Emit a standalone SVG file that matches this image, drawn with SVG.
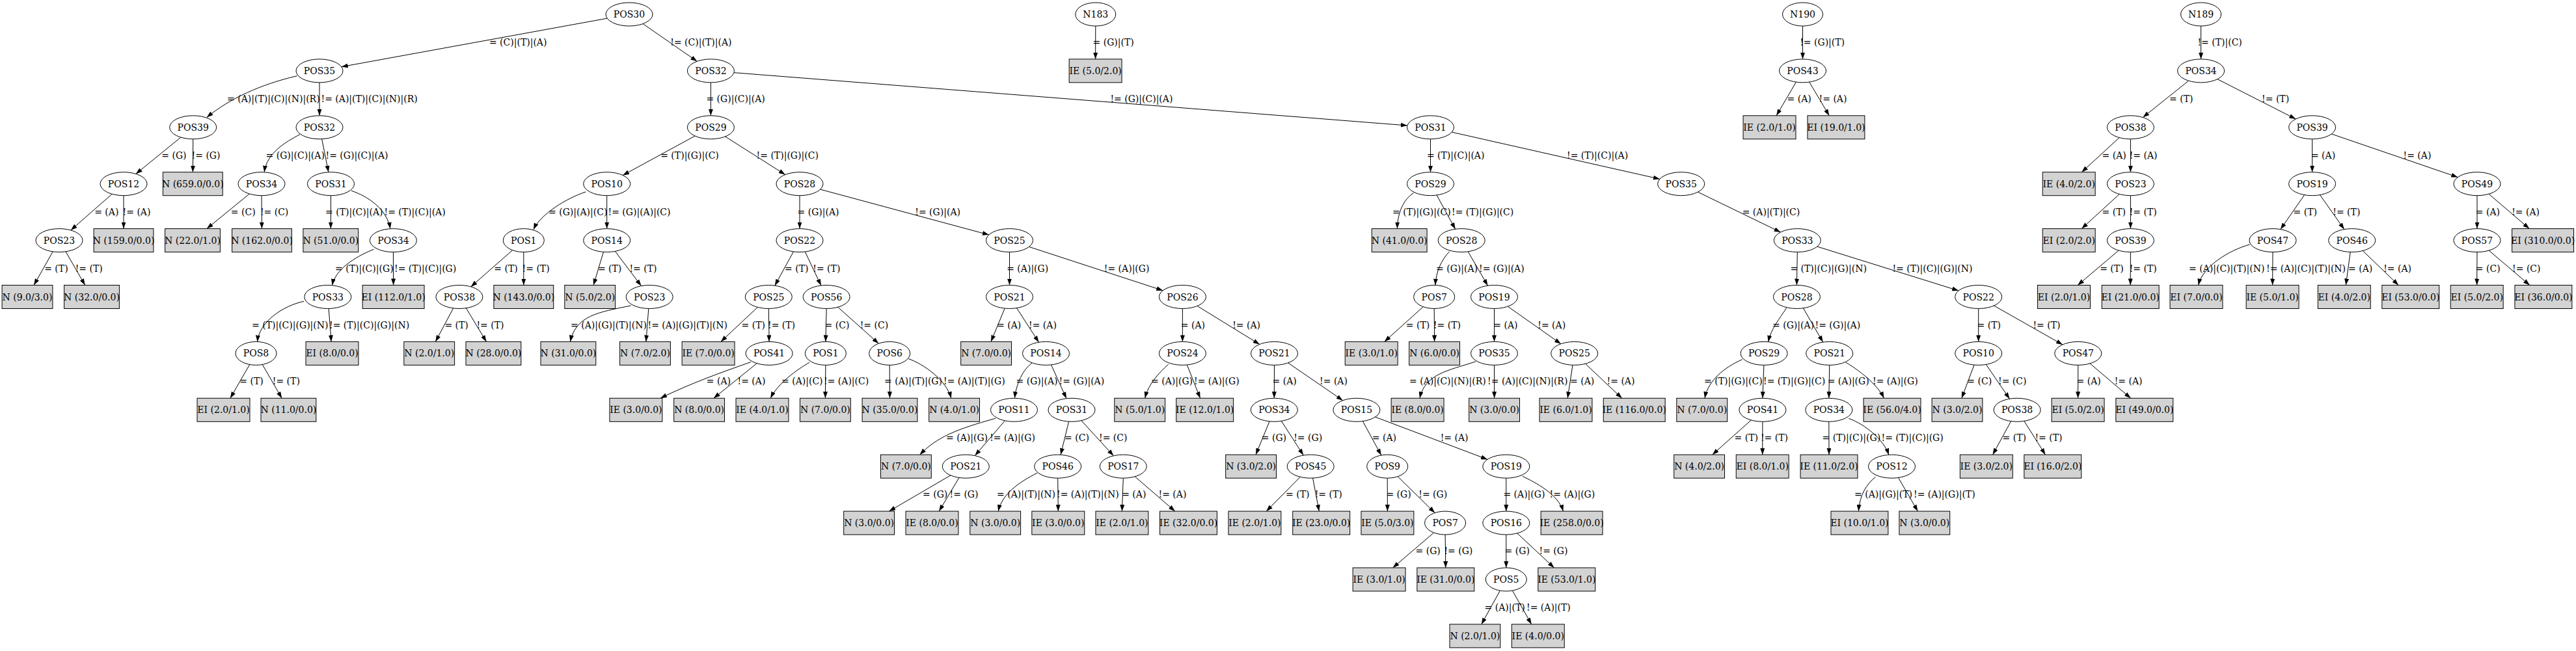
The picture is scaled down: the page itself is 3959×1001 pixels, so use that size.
<svg xmlns="http://www.w3.org/2000/svg" width="3959" height="1001" viewBox="0 0 3959 1001">
<defs>
<marker id="ah" markerWidth="10" markerHeight="7" refX="10" refY="3.5" orient="auto" markerUnits="userSpaceOnUse"><path d="M0,0 L10,3.5 L0,7 z" fill="#000"/></marker>
</defs>
<style>
.nd ellipse{fill:#fff;stroke:#000;stroke-width:1}
.lf rect{fill:#d3d3d3;stroke:#000;stroke-width:1}
text{font-family:"DejaVu Serif","Liberation Serif",serif;font-size:14px;fill:#000}
.nd text,.lf text{text-anchor:middle}
#edges path{fill:none;stroke:#000;stroke-width:1;marker-end:url(#ah)}
</style>
<rect x="0" y="0" width="3959" height="1001" fill="#fff"/>
<g id="edges">
<g id="e1"><path d="M933.2,28.2 L524.8,102.7"/><text x="751.9" y="69.9">= (C)|(T)|(A)</text></g>
<g id="e2"><path d="M988.1,36.6 L1071.3,94.3"/><text x="1030.3" y="69.9">!= (C)|(T)|(A)</text></g>
<g id="e3"><path d="M456.6,116.7 C401.1,129.5 352.5,151.8 317.8,180.5"/><text x="349" y="156.9">= (A)|(T)|(C)|(N)|(R)</text></g>
<g id="e4"><path d="M491,126.9 L491,177.8"/><text x="493.5" y="156.9">!= (A)|(T)|(C)|(N)|(R)</text></g>
<g id="e5"><path d="M277.9,211.1 L208.8,267.4"/><text x="248.3" y="243.8">= (G)</text></g>
<g id="e6"><path d="M296.7,213.8 L296.4,264.7"/><text x="294.6" y="243.8">!= (G)</text></g>
<g id="e7"><path d="M172.2,298.3 L108.8,354"/><text x="145.2" y="330.7">= (A)</text></g>
<g id="e8"><path d="M190,300.7 L190,351.6"/><text x="188.6" y="330.7">!= (A)</text></g>
<g id="e9"><path d="M81.2,386.9 L52.1,438.5"/><text x="68.2" y="417.6">= (T)</text></g>
<g id="e10"><path d="M101,386.9 L130.7,438.5"/><text x="115.7" y="417.6">!= (T)</text></g>
<g id="e11"><path d="M460.9,206.7 C439,218.3 410,235 406.2,264.7"/><text x="408.5" y="243.8">= (G)|(C)|(A)</text></g>
<g id="e12"><path d="M494.6,213.7 L504.9,264.8"/><text x="500.5" y="243.8">!= (G)|(C)|(A)</text></g>
<g id="e13"><path d="M383.3,298.1 L317.9,351.6"/><text x="354.8" y="330.7">= (C)</text></g>
<g id="e14"><path d="M402,300.7 L402.4,351.6"/><text x="399.9" y="330.7">!= (C)</text></g>
<g id="e15"><path d="M508.5,300.7 L508.3,351.6"/><text x="500" y="330.7">= (T)|(C)|(A)</text></g>
<g id="e16"><path d="M540,293.3 C566,302 595,322 599.8,351.8"/><text x="590.5" y="330.7">!= (T)|(C)|(A)</text></g>
<g id="e17"><path d="M574.5,383.3 C545,395 515,415 510.6,438.8"/><text x="515" y="417.6">= (T)|(C)|(G)</text></g>
<g id="e18"><path d="M604.4,387.6 L604.6,438.5"/><text x="606" y="417.6">!= (T)|(C)|(G)</text></g>
<g id="e19"><path d="M467.2,463.3 C435,470 398,495 395.6,525.6"/><text x="387" y="504.5">= (T)|(C)|(G)|(N)</text></g>
<g id="e20"><path d="M505.2,474.5 L509.1,525.4"/><text x="506" y="504.5">!= (T)|(C)|(G)|(N)</text></g>
<g id="e21"><path d="M383.7,560.5 L353.9,612.3"/><text x="368.3" y="591.4">= (T)</text></g>
<g id="e22"><path d="M403.3,560.5 L433.1,612.3"/><text x="418.8" y="591.4">!= (T)</text></g>
<g id="e23"><path d="M1092.4,126.9 L1092.4,177.8"/><text x="1085.4" y="156.9">= (G)|(C)|(A)</text></g>
<g id="e24"><path d="M1128,111.7 L2162.9,193"/><text x="1706.4" y="156.9">!= (G)|(C)|(A)</text></g>
<g id="e25"><path d="M1068,209.1 L957.1,269.5"/><text x="1015.2" y="243.8">= (T)|(G)|(C)</text></g>
<g id="e26"><path d="M1114.6,210 L1206.8,268.5"/><text x="1162.6" y="243.8">!= (T)|(G)|(C)</text></g>
<g id="e27"><path d="M900.2,295 C870,305 830,330 820,353"/><text x="843" y="330.7">= (G)|(A)|(C)</text></g>
<g id="e28"><path d="M932.7,300.7 L932.7,351.6"/><text x="934.5" y="330.7">!= (G)|(A)|(C)</text></g>
<g id="e29"><path d="M1229,300.7 L1229,351.6"/><text x="1225.5" y="330.7">= (G)|(A)</text></g>
<g id="e30"><path d="M1260.7,291.2 L1519.8,361.1"/><text x="1406.3" y="330.7">!= (G)|(A)</text></g>
<g id="e31"><path d="M787.6,384.7 L723.7,440.9"/><text x="759.3" y="417.6">= (T)</text></g>
<g id="e32"><path d="M804.8,387.6 L804.8,438.5"/><text x="802.6" y="417.6">!= (T)</text></g>
<g id="e33"><path d="M927.4,387.5 L912.1,438.5"/><text x="918.9" y="417.6">= (T)</text></g>
<g id="e34"><path d="M945.4,386.5 L985.5,439.6"/><text x="967.4" y="417.6">!= (T)</text></g>
<g id="e35"><path d="M1219.5,386.9 L1190.8,439.2"/><text x="1206" y="417.6">= (T)</text></g>
<g id="e36"><path d="M1237.3,387.1 L1261.9,439"/><text x="1249.3" y="417.6">!= (T)</text></g>
<g id="e37"><path d="M696.7,473.9 L669.3,525.4"/><text x="683.4" y="504.5">= (T)</text></g>
<g id="e38"><path d="M716.3,473.7 L747.5,525.4"/><text x="732.4" y="504.5">!= (T)</text></g>
<g id="e39"><path d="M969.6,470 C920,480 885,485 876.4,525.4"/><text x="877" y="504.5">= (A)|(G)|(T)|(N)</text></g>
<g id="e40"><path d="M996.8,474.5 L992.9,525.4"/><text x="995.5" y="504.5">!= (A)|(G)|(T)|(N)</text></g>
<g id="e41"><path d="M1164.4,472.4 L1107.8,525.4"/><text x="1139.6" y="504.5">= (T)</text></g>
<g id="e42"><path d="M1181.3,474.5 L1182.1,525.4"/><text x="1180" y="504.5">!= (T)</text></g>
<g id="e43"><path d="M1270.2,474.5 L1268.9,525.4"/><text x="1267.6" y="504.5">= (C)</text></g>
<g id="e44"><path d="M1287.7,472.2 L1350.3,528.2"/><text x="1321.7" y="504.5">!= (C)</text></g>
<g id="e45"><path d="M1153.9,556.7 C1110,572 1060,590 1015,612.3"/><text x="1085.8" y="591.4">= (A)</text></g>
<g id="e46"><path d="M1163.2,558.7 L1096.9,612.3"/><text x="1133.5" y="591.4">!= (A)</text></g>
<g id="e47"><path d="M1244.1,557.3 C1225,568 1195,590 1184.3,612.3"/><text x="1201" y="591.4">= (A)|(C)</text></g>
<g id="e48"><path d="M1268.9,561.4 L1268.4,612.3"/><text x="1266" y="591.4">!= (A)|(C)</text></g>
<g id="e49"><path d="M1367.2,561.4 L1367.5,612.3"/><text x="1359" y="591.4">= (A)|(T)|(G)</text></g>
<g id="e50"><path d="M1396.3,551.7 C1420,560 1455,585 1461.8,612.3"/><text x="1450" y="591.4">!= (A)|(T)|(G)</text></g>
<g id="e51"><path d="M1551.5,387.6 L1551.5,438.5"/><text x="1547.2" y="417.6">= (A)|(G)</text></g>
<g id="e52"><path d="M1581.6,379.5 L1787.3,446.7"/><text x="1696.8" y="417.6">!= (A)|(G)</text></g>
<g id="e53"><path d="M1544.2,474.1 L1523,525.4"/><text x="1532" y="504.5">= (A)</text></g>
<g id="e54"><path d="M1562.5,473.6 L1596.5,526.3"/><text x="1581" y="504.5">!= (A)</text></g>
<g id="e55"><path d="M1586.2,558.3 C1572,568 1562,590 1559.4,612.3"/><text x="1561.5" y="591.4">= (G)|(A)</text></g>
<g id="e56"><path d="M1615.5,560.9 L1639,612.8"/><text x="1627.5" y="591.4">!= (G)|(A)</text></g>
<g id="e57"><path d="M1817.4,474.5 L1817.4,525.4"/><text x="1814.8" y="504.5">= (A)</text></g>
<g id="e58"><path d="M1840.1,470.5 L1935.8,529.4"/><text x="1894.2" y="504.5">!= (A)</text></g>
<g id="e59"><path d="M1529.9,643.3 C1470,660 1440,672 1413.6,699.2"/><text x="1454" y="678.3">= (A)|(G)</text></g>
<g id="e60"><path d="M1544.4,646.9 L1498.4,700.6"/><text x="1521.2" y="678.3">!= (A)|(G)</text></g>
<g id="e61"><path d="M1642.6,648.2 L1630.1,699.3"/><text x="1636.1" y="678.3">= (C)</text></g>
<g id="e62"><path d="M1661.9,646.7 L1711.4,700.8"/><text x="1689" y="678.3">!= (C)</text></g>
<g id="e63"><path d="M1460.9,730.9 L1366.4,786.1"/><text x="1418" y="765.2">= (G)</text></g>
<g id="e64"><path d="M1474,734.5 L1443.2,786.1"/><text x="1459.6" y="765.2">!= (G)</text></g>
<g id="e65"><path d="M1594,727.3 C1565,742 1540,760 1534.2,786.1"/><text x="1532" y="765.2">= (A)|(T)|(N)</text></g>
<g id="e66"><path d="M1625.7,735.2 L1626.3,786.1"/><text x="1624" y="765.2">!= (A)|(T)|(N)</text></g>
<g id="e67"><path d="M1726.3,735.2 L1724.4,786.1"/><text x="1724.2" y="765.2">= (A)</text></g>
<g id="e68"><path d="M1744.3,732.8 L1805.8,786.1"/><text x="1780.5" y="765.2">!= (A)</text></g>
<g id="e69"><path d="M1795.7,560 C1780,575 1765,590 1759.7,612.3"/><text x="1769" y="591.4">= (A)|(G)</text></g>
<g id="e70"><path d="M1824.4,561.2 L1844.6,612.3"/><text x="1835" y="591.4">!= (A)|(G)</text></g>
<g id="e71"><path d="M1958.5,561.4 L1958.3,612.3"/><text x="1955.5" y="591.4">= (A)</text></g>
<g id="e72"><path d="M1979.7,558 L2063.7,615.7"/><text x="2028.1" y="591.4">!= (A)</text></g>
<g id="e73"><path d="M1951,648 L1930,699.2"/><text x="1938.8" y="678.3">= (G)</text></g>
<g id="e74"><path d="M1969.3,647.4 L2003.2,700"/><text x="1988.2" y="678.3">!= (G)</text></g>
<g id="e75"><path d="M1998.3,733.3 L1946.2,786.1"/><text x="1976" y="765.2">= (T)</text></g>
<g id="e76"><path d="M2017.6,735.1 L2027.3,786.1"/><text x="2020.7" y="765.2">!= (T)</text></g>
<g id="e77"><path d="M2094.3,647.6 L2122.8,700"/><text x="2108.8" y="678.3">= (A)</text></g>
<g id="e78"><path d="M2113.6,641.2 L2286.1,706.4"/><text x="2213.7" y="678.3">!= (A)</text></g>
<g id="e79"><path d="M2132.2,735.2 L2132.4,786.1"/><text x="2130.4" y="765.2">= (G)</text></g>
<g id="e80"><path d="M2148.1,732.7 L2205.2,788.6"/><text x="2180.3" y="765.2">!= (G)</text></g>
<g id="e81"><path d="M2203.6,819.1 L2140.6,873"/><text x="2175.5" y="852.1">= (G)</text></g>
<g id="e82"><path d="M2221.1,822.1 L2221.8,873"/><text x="2219.4" y="852.1">!= (G)</text></g>
<g id="e83"><path d="M2314.8,735.2 L2314.8,786.1"/><text x="2310.4" y="765.2">= (A)|(G)</text></g>
<g id="e84"><path d="M2339.9,732.3 C2360,742 2395,760 2402.4,786.1"/><text x="2381.6" y="765.2">!= (A)|(G)</text></g>
<g id="e85"><path d="M2314.8,822.1 L2314.8,873"/><text x="2312.6" y="852.1">= (G)</text></g>
<g id="e86"><path d="M2331.7,819.9 L2388.5,873"/><text x="2365.5" y="852.1">!= (G)</text></g>
<g id="e87"><path d="M2305.3,908.3 L2276.8,959.9"/><text x="2281.5" y="939">= (A)|(T)</text></g>
<g id="e88"><path d="M2324.5,908.3 L2353.7,959.9"/><text x="2346" y="939">!= (A)|(T)</text></g>
<g id="e89"><path d="M2198.5,213.8 L2198.5,264.7"/><text x="2192.9" y="243.8">= (T)|(C)|(A)</text></g>
<g id="e90"><path d="M2231.3,203.2 L2550.9,275.3"/><text x="2408" y="243.8">!= (T)|(C)|(A)</text></g>
<g id="e91"><path d="M2172.5,296.7 C2158,306 2148,325 2147.4,351.6"/><text x="2140" y="330.7">= (T)|(G)|(C)</text></g>
<g id="e92"><path d="M2208,300 L2236.7,352.3"/><text x="2231" y="330.7">!= (T)|(G)|(C)</text></g>
<g id="e93"><path d="M2227.6,386.7 C2215,400 2207,418 2205.9,438.6"/><text x="2207" y="417.6">= (G)|(A)</text></g>
<g id="e94"><path d="M2256.2,386.9 L2286.5,439.2"/><text x="2273" y="417.6">!= (G)|(A)</text></g>
<g id="e95"><path d="M2187.3,471.7 L2127.7,525.4"/><text x="2160.8" y="504.5">= (T)</text></g>
<g id="e96"><path d="M2204.2,474.5 L2204.6,525.4"/><text x="2202.9" y="504.5">!= (T)</text></g>
<g id="e97"><path d="M2296.5,474.5 L2296.5,525.4"/><text x="2295.3" y="504.5">= (A)</text></g>
<g id="e98"><path d="M2317.3,471.2 L2398.9,528.7"/><text x="2363.3" y="504.5">!= (A)</text></g>
<g id="e99"><path d="M2267.9,556 C2225,570 2190,575 2182,612.3"/><text x="2166" y="591.4">= (A)|(C)|(N)|(R)</text></g>
<g id="e100"><path d="M2296.5,561.4 L2296.6,612.3"/><text x="2286.1" y="591.4">!= (A)|(C)|(N)|(R)</text></g>
<g id="e101"><path d="M2417,561.4 L2409.2,612.3"/><text x="2413" y="591.4">= (A)</text></g>
<g id="e102"><path d="M2436.5,559.3 L2492.7,612.3"/><text x="2469.6" y="591.4">!= (A)</text></g>
<g id="e103"><path d="M2609.5,295.3 L2736.5,357"/><text x="2677.7" y="330.7">= (A)|(T)|(C)</text></g>
<g id="e104"><path d="M2762.3,387.6 L2761.4,438.5"/><text x="2751.4" y="417.6">= (T)|(C)|(G)|(N)</text></g>
<g id="e105"><path d="M2792.8,379.1 L3010.2,447"/><text x="2908.4" y="417.6">!= (T)|(C)|(G)|(N)</text></g>
<g id="e106"><path d="M2745.8,473.3 C2735,490 2722,505 2717.6,525.8"/><text x="2724" y="504.5">= (G)|(A)</text></g>
<g id="e107"><path d="M2771.4,473.8 L2801.7,526.1"/><text x="2789.5" y="504.5">!= (G)|(A)</text></g>
<g id="e108"><path d="M2677.7,552.7 C2650,565 2625,585 2620,612.3"/><text x="2619" y="591.4">= (T)|(G)|(C)</text></g>
<g id="e109"><path d="M2710.9,561.4 L2708.9,612.3"/><text x="2710" y="591.4">!= (T)|(G)|(C)</text></g>
<g id="e110"><path d="M2811.7,561.4 L2810.8,612.3"/><text x="2808.7" y="591.4">= (A)|(G)</text></g>
<g id="e111"><path d="M2836.9,557.3 C2855,568 2885,590 2895.4,612.3"/><text x="2878" y="591.4">!= (A)|(G)</text></g>
<g id="e112"><path d="M2691.3,646 L2631.7,699.2"/><text x="2665.5" y="678.3">= (T)</text></g>
<g id="e113"><path d="M2708.9,648.3 L2708.7,699.2"/><text x="2705.9" y="678.3">!= (T)</text></g>
<g id="e114"><path d="M2810.8,648.3 L2811,699.2"/><text x="2800.5" y="678.3">= (T)|(C)|(G)</text></g>
<g id="e115"><path d="M2841.2,643.3 C2865,652 2895,675 2902.8,699.4"/><text x="2891.5" y="678.3">!= (T)|(C)|(G)</text></g>
<g id="e116"><path d="M2882.4,733.3 C2868,745 2858,762 2856.4,786.1"/><text x="2850" y="765.2">= (A)|(G)|(T)</text></g>
<g id="e117"><path d="M2917.5,734.5 L2947.4,786.1"/><text x="2941" y="765.2">!= (A)|(G)|(T)</text></g>
<g id="e118"><path d="M3040.7,474.5 L3040.7,525.4"/><text x="3038.5" y="504.5">= (T)</text></g>
<g id="e119"><path d="M3064.5,470 L3170,529.9"/><text x="3124.4" y="504.5">!= (T)</text></g>
<g id="e120"><path d="M3034,561.2 L3014.8,612.3"/><text x="3023.3" y="591.4">= (C)</text></g>
<g id="e121"><path d="M3052.3,560.4 L3088.5,613.3"/><text x="3071" y="591.4">!= (C)</text></g>
<g id="e122"><path d="M3090.7,647.6 L3062.6,699.2"/><text x="3077.6" y="678.3">= (T)</text></g>
<g id="e123"><path d="M3110.9,647.5 L3143.5,699.2"/><text x="3127.4" y="678.3">!= (T)</text></g>
<g id="e124"><path d="M3193.8,561.4 L3193.6,612.3"/><text x="3191.6" y="591.4">= (A)</text></g>
<g id="e125"><path d="M3212,558.9 L3274.7,612.3"/><text x="3249.7" y="591.4">!= (A)</text></g>
<g id="e126"><path d="M1683.8,40 L1683.6,90.9"/><text x="1679.5" y="69.9">= (G)|(T)</text></g>
<g id="e127"><path d="M2770.5,40 L2770.5,90.9"/><text x="2766.2" y="69.9">!= (G)|(T)</text></g>
<g id="e128"><path d="M2760.4,126.2 L2730.1,177.8"/><text x="2746.6" y="156.9">= (A)</text></g>
<g id="e129"><path d="M2780.7,126.2 L2811.3,177.8"/><text x="2795.6" y="156.9">!= (A)</text></g>
<g id="e130"><path d="M3382.6,40 L3382.6,90.9"/><text x="3377.4" y="69.9">!= (T)|(C)</text></g>
<g id="e131"><path d="M3363.6,124.2 L3293.4,180.5"/><text x="3334.1" y="156.9">= (T)</text></g>
<g id="e132"><path d="M3407.9,121.7 L3528.3,183"/><text x="3476.1" y="156.9">!= (T)</text></g>
<g id="e133"><path d="M3257.2,211.6 L3199.3,264.7"/><text x="3230.6" y="243.8">= (A)</text></g>
<g id="e134"><path d="M3274.4,213.8 L3274.4,264.7"/><text x="3272.7" y="243.8">!= (A)</text></g>
<g id="e135"><path d="M3257.2,298.5 L3199.3,351.6"/><text x="3230.6" y="330.7">= (T)</text></g>
<g id="e136"><path d="M3274.4,300.7 L3274.4,351.6"/><text x="3272.7" y="330.7">!= (T)</text></g>
<g id="e137"><path d="M3256.1,385.1 L3193.2,438.5"/><text x="3227.2" y="417.6">= (T)</text></g>
<g id="e138"><path d="M3274.4,387.6 L3274.2,438.5"/><text x="3272.7" y="417.6">!= (T)</text></g>
<g id="e139"><path d="M3553.6,213.8 L3553.6,264.7"/><text x="3551.9" y="243.8">= (A)</text></g>
<g id="e140"><path d="M3583.3,206 L3777.3,272.5"/><text x="3693.5" y="243.8">!= (A)</text></g>
<g id="e141"><path d="M3541.7,299.7 L3504.9,352.6"/><text x="3524.6" y="330.7">= (T)</text></g>
<g id="e142"><path d="M3565.5,299.7 L3602.8,352.6"/><text x="3585.3" y="330.7">!= (T)</text></g>
<g id="e143"><path d="M3457.5,376 C3425,385 3385,410 3378.7,438.5"/><text x="3364" y="417.6">= (A)|(C)|(T)|(N)</text></g>
<g id="e144"><path d="M3493,387.6 L3492.6,438.5"/><text x="3483" y="417.6">!= (A)|(C)|(T)|(N)</text></g>
<g id="e145"><path d="M3612.2,387.5 L3605.3,438.5"/><text x="3609" y="417.6">= (A)</text></g>
<g id="e146"><path d="M3631.3,385.6 L3686.2,438.5"/><text x="3663.2" y="417.6">!= (A)</text></g>
<g id="e147"><path d="M3807,300.7 L3807,351.6"/><text x="3804.8" y="330.7">= (A)</text></g>
<g id="e148"><path d="M3825.1,298.3 L3887.2,351.6"/><text x="3860.2" y="330.7">!= (A)</text></g>
<g id="e149"><path d="M3807,387.6 L3806.7,438.5"/><text x="3804.8" y="417.6">= (C)</text></g>
<g id="e150"><path d="M3825.2,385.2 L3887.8,438.5"/><text x="3861.1" y="417.6">!= (C)</text></g>
</g>
<g id="nodes">
<g id="a0" class="nd"><ellipse cx="967" cy="22" rx="36" ry="18"/><text x="967" y="27">POS30</text></g>
<g id="a1" class="nd"><ellipse cx="491" cy="108.9" rx="36" ry="18"/><text x="491" y="113.9">POS35</text></g>
<g id="a2" class="nd"><ellipse cx="1092.4" cy="108.9" rx="36" ry="18"/><text x="1092.4" y="113.9">POS32</text></g>
<g id="a1a" class="nd"><ellipse cx="296.7" cy="195.8" rx="36" ry="18"/><text x="296.7" y="200.8">POS39</text></g>
<g id="a1b" class="nd"><ellipse cx="491" cy="195.8" rx="36" ry="18"/><text x="491" y="200.8">POS32</text></g>
<g id="a1a1" class="nd"><ellipse cx="190" cy="282.7" rx="36" ry="18"/><text x="190" y="287.7">POS12</text></g>
<g id="a1a2" class="lf"><rect x="250.4" y="264.7" width="91.8" height="36"/><text x="296.3" y="287.7">N (659.0/0.0)</text></g>
<g id="a1a1a" class="nd"><ellipse cx="91" cy="369.6" rx="36" ry="18"/><text x="91" y="374.6">POS23</text></g>
<g id="a1a1b" class="lf"><rect x="144.1" y="351.6" width="91.8" height="36"/><text x="190" y="374.6">N (159.0/0.0)</text></g>
<g id="a1a1a1" class="lf"><rect x="3.1" y="438.5" width="77.8" height="36"/><text x="42" y="461.5">N (9.0/3.0)</text></g>
<g id="a1a1a2" class="lf"><rect x="98.6" y="438.5" width="84.8" height="36"/><text x="141" y="461.5">N (32.0/0.0)</text></g>
<g id="a1b1" class="nd"><ellipse cx="402" cy="282.7" rx="36" ry="18"/><text x="402" y="287.7">POS34</text></g>
<g id="a1b2" class="nd"><ellipse cx="508.5" cy="282.7" rx="36" ry="18"/><text x="508.5" y="287.7">POS31</text></g>
<g id="a1b1a" class="lf"><rect x="253.6" y="351.6" width="84.8" height="36"/><text x="296" y="374.6">N (22.0/1.0)</text></g>
<g id="a1b1b" class="lf"><rect x="356.6" y="351.6" width="91.8" height="36"/><text x="402.5" y="374.6">N (162.0/0.0)</text></g>
<g id="a1b2a" class="lf"><rect x="465.9" y="351.6" width="84.8" height="36"/><text x="508.3" y="374.6">N (51.0/0.0)</text></g>
<g id="a1b2b" class="nd"><ellipse cx="604.4" cy="369.6" rx="36" ry="18"/><text x="604.4" y="374.6">POS34</text></g>
<g id="a1b2b1" class="nd"><ellipse cx="503.8" cy="456.5" rx="36" ry="18"/><text x="503.8" y="461.5">POS33</text></g>
<g id="a1b2b2" class="lf"><rect x="557.15" y="438.5" width="94.9" height="36"/><text x="604.6" y="461.5">EI (112.0/1.0)</text></g>
<g id="a1b2b1a" class="nd"><ellipse cx="393.5" cy="543.4" rx="31.5" ry="18"/><text x="393.5" y="548.4">POS8</text></g>
<g id="a1b2b1b" class="lf"><rect x="470.05" y="525.4" width="80.9" height="36"/><text x="510.5" y="548.4">EI (8.0/0.0)</text></g>
<g id="a1b2b1a1" class="lf"><rect x="303.05" y="612.3" width="80.9" height="36"/><text x="343.5" y="635.3">EI (2.0/1.0)</text></g>
<g id="a1b2b1a2" class="lf"><rect x="401" y="612.3" width="84.8" height="36"/><text x="443.4" y="635.3">N (11.0/0.0)</text></g>
<g id="a2a" class="nd"><ellipse cx="1092.4" cy="195.8" rx="36" ry="18"/><text x="1092.4" y="200.8">POS29</text></g>
<g id="a2b" class="nd"><ellipse cx="2198.5" cy="195.8" rx="36" ry="18"/><text x="2198.5" y="200.8">POS31</text></g>
<g id="a2a1" class="nd"><ellipse cx="932.7" cy="282.7" rx="36" ry="18"/><text x="932.7" y="287.7">POS10</text></g>
<g id="a2a2" class="nd"><ellipse cx="1229" cy="282.7" rx="36" ry="18"/><text x="1229" y="287.7">POS28</text></g>
<g id="a2a1a" class="nd"><ellipse cx="804.8" cy="369.6" rx="31.5" ry="18"/><text x="804.8" y="374.6">POS1</text></g>
<g id="a2a1b" class="nd"><ellipse cx="932.7" cy="369.6" rx="36" ry="18"/><text x="932.7" y="374.6">POS14</text></g>
<g id="a2a1a1" class="nd"><ellipse cx="705.9" cy="456.5" rx="36" ry="18"/><text x="705.9" y="461.5">POS38</text></g>
<g id="a2a1a2" class="lf"><rect x="758.9" y="438.5" width="91.8" height="36"/><text x="804.8" y="461.5">N (143.0/0.0)</text></g>
<g id="a2a1a1a" class="lf"><rect x="620.8" y="525.4" width="77.8" height="36"/><text x="659.7" y="548.4">N (2.0/1.0)</text></g>
<g id="a2a1a1b" class="lf"><rect x="716" y="525.4" width="84.8" height="36"/><text x="758.4" y="548.4">N (28.0/0.0)</text></g>
<g id="a2a1b1" class="lf"><rect x="867.8" y="438.5" width="77.8" height="36"/><text x="906.7" y="461.5">N (5.0/2.0)</text></g>
<g id="a2a1b2" class="nd"><ellipse cx="998.2" cy="456.5" rx="36" ry="18"/><text x="998.2" y="461.5">POS23</text></g>
<g id="a2a1b2a" class="lf"><rect x="831" y="525.4" width="84.8" height="36"/><text x="873.4" y="548.4">N (31.0/0.0)</text></g>
<g id="a2a1b2b" class="lf"><rect x="952.6" y="525.4" width="77.8" height="36"/><text x="991.5" y="548.4">N (7.0/2.0)</text></g>
<g id="a2a2a" class="nd"><ellipse cx="1229" cy="369.6" rx="36" ry="18"/><text x="1229" y="374.6">POS22</text></g>
<g id="a2a2b" class="nd"><ellipse cx="1551.5" cy="369.6" rx="36" ry="18"/><text x="1551.5" y="374.6">POS25</text></g>
<g id="a2a2a1" class="nd"><ellipse cx="1181.3" cy="456.5" rx="36" ry="18"/><text x="1181.3" y="461.5">POS25</text></g>
<g id="a2a2a2" class="nd"><ellipse cx="1270.2" cy="456.5" rx="36" ry="18"/><text x="1270.2" y="461.5">POS56</text></g>
<g id="a2a2a1a" class="lf"><rect x="1048.15" y="525.4" width="80.9" height="36"/><text x="1088.6" y="548.4">IE (7.0/0.0)</text></g>
<g id="a2a2a1b" class="nd"><ellipse cx="1182.1" cy="543.4" rx="36" ry="18"/><text x="1182.1" y="548.4">POS41</text></g>
<g id="a2a2a1b1" class="lf"><rect x="936.95" y="612.3" width="80.9" height="36"/><text x="977.4" y="635.3">IE (3.0/0.0)</text></g>
<g id="a2a2a1b2" class="lf"><rect x="1035.7" y="612.3" width="77.8" height="36"/><text x="1074.6" y="635.3">N (8.0/0.0)</text></g>
<g id="a2a2a2a" class="nd"><ellipse cx="1268.9" cy="543.4" rx="31.5" ry="18"/><text x="1268.9" y="548.4">POS1</text></g>
<g id="a2a2a2b" class="nd"><ellipse cx="1367.2" cy="543.4" rx="31.5" ry="18"/><text x="1367.2" y="548.4">POS6</text></g>
<g id="a2a2a2a1" class="lf"><rect x="1131.05" y="612.3" width="80.9" height="36"/><text x="1171.5" y="635.3">IE (4.0/1.0)</text></g>
<g id="a2a2a2a2" class="lf"><rect x="1229.5" y="612.3" width="77.8" height="36"/><text x="1268.4" y="635.3">N (7.0/0.0)</text></g>
<g id="a2a2a2b1" class="lf"><rect x="1325.1" y="612.3" width="84.8" height="36"/><text x="1367.5" y="635.3">N (35.0/0.0)</text></g>
<g id="a2a2a2b2" class="lf"><rect x="1427.7" y="612.3" width="77.8" height="36"/><text x="1466.6" y="635.3">N (4.0/1.0)</text></g>
<g id="a2a2b1" class="nd"><ellipse cx="1551.5" cy="456.5" rx="36" ry="18"/><text x="1551.5" y="461.5">POS21</text></g>
<g id="a2a2b2" class="nd"><ellipse cx="1817.4" cy="456.5" rx="36" ry="18"/><text x="1817.4" y="461.5">POS26</text></g>
<g id="a2a2b1a" class="lf"><rect x="1476.7" y="525.4" width="77.8" height="36"/><text x="1515.6" y="548.4">N (7.0/0.0)</text></g>
<g id="a2a2b1b" class="nd"><ellipse cx="1607.5" cy="543.4" rx="36" ry="18"/><text x="1607.5" y="548.4">POS14</text></g>
<g id="a2a2b1b1" class="nd"><ellipse cx="1558.5" cy="630.3" rx="36" ry="18"/><text x="1558.5" y="635.3">POS11</text></g>
<g id="a2a2b1b2" class="nd"><ellipse cx="1647" cy="630.3" rx="36" ry="18"/><text x="1647" y="635.3">POS31</text></g>
<g id="a2a2b1b1a" class="lf"><rect x="1353.5" y="699.2" width="77.8" height="36"/><text x="1392.4" y="722.2">N (7.0/0.0)</text></g>
<g id="a2a2b1b1b" class="nd"><ellipse cx="1484.3" cy="717.2" rx="36" ry="18"/><text x="1484.3" y="722.2">POS21</text></g>
<g id="a2a2b1b1b1" class="lf"><rect x="1296.7" y="786.1" width="77.8" height="36"/><text x="1335.6" y="809.1">N (3.0/0.0)</text></g>
<g id="a2a2b1b1b2" class="lf"><rect x="1392.05" y="786.1" width="80.9" height="36"/><text x="1432.5" y="809.1">IE (8.0/0.0)</text></g>
<g id="a2a2b1b2a" class="nd"><ellipse cx="1625.7" cy="717.2" rx="36" ry="18"/><text x="1625.7" y="722.2">POS46</text></g>
<g id="a2a2b1b2b" class="nd"><ellipse cx="1726.3" cy="717.2" rx="36" ry="18"/><text x="1726.3" y="722.2">POS17</text></g>
<g id="a2a2b1b2a1" class="lf"><rect x="1490.8" y="786.1" width="77.8" height="36"/><text x="1529.7" y="809.1">N (3.0/0.0)</text></g>
<g id="a2a2b1b2a2" class="lf"><rect x="1585.85" y="786.1" width="80.9" height="36"/><text x="1626.3" y="809.1">IE (3.0/0.0)</text></g>
<g id="a2a2b1b2b1" class="lf"><rect x="1683.95" y="786.1" width="80.9" height="36"/><text x="1724.4" y="809.1">IE (2.0/1.0)</text></g>
<g id="a2a2b1b2b2" class="lf"><rect x="1782.55" y="786.1" width="87.9" height="36"/><text x="1826.5" y="809.1">IE (32.0/0.0)</text></g>
<g id="a2a2b2a" class="nd"><ellipse cx="1817.4" cy="543.4" rx="36" ry="18"/><text x="1817.4" y="548.4">POS24</text></g>
<g id="a2a2b2b" class="nd"><ellipse cx="1958.5" cy="543.4" rx="36" ry="18"/><text x="1958.5" y="548.4">POS21</text></g>
<g id="a2a2b2a1" class="lf"><rect x="1712.8" y="612.3" width="77.8" height="36"/><text x="1751.7" y="635.3">N (5.0/1.0)</text></g>
<g id="a2a2b2a2" class="lf"><rect x="1807.75" y="612.3" width="87.9" height="36"/><text x="1851.7" y="635.3">IE (12.0/1.0)</text></g>
<g id="a2a2b2b1" class="nd"><ellipse cx="1958.3" cy="630.3" rx="36" ry="18"/><text x="1958.3" y="635.3">POS34</text></g>
<g id="a2a2b2b2" class="nd"><ellipse cx="2084.9" cy="630.3" rx="36" ry="18"/><text x="2084.9" y="635.3">POS15</text></g>
<g id="a2a2b2b1a" class="lf"><rect x="1883.7" y="699.2" width="77.8" height="36"/><text x="1922.6" y="722.2">N (3.0/2.0)</text></g>
<g id="a2a2b2b1b" class="nd"><ellipse cx="2014.2" cy="717.2" rx="36" ry="18"/><text x="2014.2" y="722.2">POS45</text></g>
<g id="a2a2b2b1b1" class="lf"><rect x="1887.95" y="786.1" width="80.9" height="36"/><text x="1928.4" y="809.1">IE (2.0/1.0)</text></g>
<g id="a2a2b2b1b2" class="lf"><rect x="1986.75" y="786.1" width="87.9" height="36"/><text x="2030.7" y="809.1">IE (23.0/0.0)</text></g>
<g id="a2a2b2b2a" class="nd"><ellipse cx="2132.2" cy="717.2" rx="31.5" ry="18"/><text x="2132.2" y="722.2">POS9</text></g>
<g id="a2a2b2b2b" class="nd"><ellipse cx="2314.8" cy="717.2" rx="36" ry="18"/><text x="2314.8" y="722.2">POS19</text></g>
<g id="a2a2b2b2a1" class="lf"><rect x="2091.95" y="786.1" width="80.9" height="36"/><text x="2132.4" y="809.1">IE (5.0/3.0)</text></g>
<g id="a2a2b2b2a2" class="nd"><ellipse cx="2221.1" cy="804.1" rx="31.5" ry="18"/><text x="2221.1" y="809.1">POS7</text></g>
<g id="a2a2b2b2a2a" class="lf"><rect x="2079.15" y="873" width="80.9" height="36"/><text x="2119.6" y="896">IE (3.0/1.0)</text></g>
<g id="a2a2b2b2a2b" class="lf"><rect x="2177.85" y="873" width="87.9" height="36"/><text x="2221.8" y="896">IE (31.0/0.0)</text></g>
<g id="a2a2b2b2b1" class="nd"><ellipse cx="2314.8" cy="804.1" rx="36" ry="18"/><text x="2314.8" y="809.1">POS16</text></g>
<g id="a2a2b2b2b2" class="lf"><rect x="2368.15" y="786.1" width="94.9" height="36"/><text x="2415.6" y="809.1">IE (258.0/0.0)</text></g>
<g id="a2a2b2b2b1a" class="nd"><ellipse cx="2314.8" cy="891" rx="31.5" ry="18"/><text x="2314.8" y="896">POS5</text></g>
<g id="a2a2b2b2b1b" class="lf"><rect x="2363.85" y="873" width="87.9" height="36"/><text x="2407.8" y="896">IE (53.0/1.0)</text></g>
<g id="a2a2b2b2b1a1" class="lf"><rect x="2228" y="959.9" width="77.8" height="36"/><text x="2266.9" y="982.9">N (2.0/1.0)</text></g>
<g id="a2a2b2b2b1a2" class="lf"><rect x="2323.35" y="959.9" width="80.9" height="36"/><text x="2363.8" y="982.9">IE (4.0/0.0)</text></g>
<g id="a2b1" class="nd"><ellipse cx="2198.5" cy="282.7" rx="36" ry="18"/><text x="2198.5" y="287.7">POS29</text></g>
<g id="a2b2" class="nd"><ellipse cx="2583.7" cy="282.7" rx="36" ry="18"/><text x="2583.7" y="287.7">POS35</text></g>
<g id="a2b1a" class="lf"><rect x="2108.3" y="351.6" width="84.8" height="36"/><text x="2150.7" y="374.6">N (41.0/0.0)</text></g>
<g id="a2b1b" class="nd"><ellipse cx="2246.2" cy="369.6" rx="36" ry="18"/><text x="2246.2" y="374.6">POS28</text></g>
<g id="a2b1b1" class="nd"><ellipse cx="2204.2" cy="456.5" rx="31.5" ry="18"/><text x="2204.2" y="461.5">POS7</text></g>
<g id="a2b1b2" class="nd"><ellipse cx="2296.5" cy="456.5" rx="36" ry="18"/><text x="2296.5" y="461.5">POS19</text></g>
<g id="a2b1b1a" class="lf"><rect x="2067.25" y="525.4" width="80.9" height="36"/><text x="2107.7" y="548.4">IE (3.0/1.0)</text></g>
<g id="a2b1b1b" class="lf"><rect x="2165.7" y="525.4" width="77.8" height="36"/><text x="2204.6" y="548.4">N (6.0/0.0)</text></g>
<g id="a2b1b2a" class="nd"><ellipse cx="2296.5" cy="543.4" rx="36" ry="18"/><text x="2296.5" y="548.4">POS35</text></g>
<g id="a2b1b2b" class="nd"><ellipse cx="2419.7" cy="543.4" rx="36" ry="18"/><text x="2419.7" y="548.4">POS25</text></g>
<g id="a2b1b2a1" class="lf"><rect x="2138.15" y="612.3" width="80.9" height="36"/><text x="2178.6" y="635.3">IE (8.0/0.0)</text></g>
<g id="a2b1b2a2" class="lf"><rect x="2257.7" y="612.3" width="77.8" height="36"/><text x="2296.6" y="635.3">N (3.0/0.0)</text></g>
<g id="a2b1b2b1" class="lf"><rect x="2366.05" y="612.3" width="80.9" height="36"/><text x="2406.5" y="635.3">IE (6.0/1.0)</text></g>
<g id="a2b1b2b2" class="lf"><rect x="2464.25" y="612.3" width="94.9" height="36"/><text x="2511.7" y="635.3">IE (116.0/0.0)</text></g>
<g id="a2b2a" class="nd"><ellipse cx="2762.3" cy="369.6" rx="36" ry="18"/><text x="2762.3" y="374.6">POS33</text></g>
<g id="a2b2a1" class="nd"><ellipse cx="2761.4" cy="456.5" rx="36" ry="18"/><text x="2761.4" y="461.5">POS28</text></g>
<g id="a2b2a2" class="nd"><ellipse cx="3040.7" cy="456.5" rx="36" ry="18"/><text x="3040.7" y="461.5">POS22</text></g>
<g id="a2b2a1a" class="nd"><ellipse cx="2711.1" cy="543.4" rx="36" ry="18"/><text x="2711.1" y="548.4">POS29</text></g>
<g id="a2b2a1b" class="nd"><ellipse cx="2811.7" cy="543.4" rx="36" ry="18"/><text x="2811.7" y="548.4">POS21</text></g>
<g id="a2b2a1a1" class="lf"><rect x="2576.8" y="612.3" width="77.8" height="36"/><text x="2615.7" y="635.3">N (7.0/0.0)</text></g>
<g id="a2b2a1a2" class="nd"><ellipse cx="2708.9" cy="630.3" rx="36" ry="18"/><text x="2708.9" y="635.3">POS41</text></g>
<g id="a2b2a1a2a" class="lf"><rect x="2572.7" y="699.2" width="77.8" height="36"/><text x="2611.6" y="722.2">N (4.0/2.0)</text></g>
<g id="a2b2a1a2b" class="lf"><rect x="2668.25" y="699.2" width="80.9" height="36"/><text x="2708.7" y="722.2">EI (8.0/1.0)</text></g>
<g id="a2b2a1b1" class="nd"><ellipse cx="2810.8" cy="630.3" rx="36" ry="18"/><text x="2810.8" y="635.3">POS34</text></g>
<g id="a2b2a1b2" class="lf"><rect x="2864.05" y="612.3" width="87.9" height="36"/><text x="2908" y="635.3">IE (56.0/4.0)</text></g>
<g id="a2b2a1b1a" class="lf"><rect x="2767.05" y="699.2" width="87.9" height="36"/><text x="2811" y="722.2">IE (11.0/2.0)</text></g>
<g id="a2b2a1b1b" class="nd"><ellipse cx="2907.5" cy="717.2" rx="36" ry="18"/><text x="2907.5" y="722.2">POS12</text></g>
<g id="a2b2a1b1b1" class="lf"><rect x="2813.95" y="786.1" width="87.9" height="36"/><text x="2857.9" y="809.1">EI (10.0/1.0)</text></g>
<g id="a2b2a1b1b2" class="lf"><rect x="2918.9" y="786.1" width="77.8" height="36"/><text x="2957.8" y="809.1">N (3.0/0.0)</text></g>
<g id="a2b2a2a" class="nd"><ellipse cx="3040.7" cy="543.4" rx="36" ry="18"/><text x="3040.7" y="548.4">POS10</text></g>
<g id="a2b2a2b" class="nd"><ellipse cx="3193.8" cy="543.4" rx="36" ry="18"/><text x="3193.8" y="548.4">POS47</text></g>
<g id="a2b2a2a1" class="lf"><rect x="2969.1" y="612.3" width="77.8" height="36"/><text x="3008" y="635.3">N (3.0/2.0)</text></g>
<g id="a2b2a2a2" class="nd"><ellipse cx="3100.1" cy="630.3" rx="36" ry="18"/><text x="3100.1" y="635.3">POS38</text></g>
<g id="a2b2a2a2a" class="lf"><rect x="3012.35" y="699.2" width="80.9" height="36"/><text x="3052.8" y="722.2">IE (3.0/2.0)</text></g>
<g id="a2b2a2a2b" class="lf"><rect x="3110.85" y="699.2" width="87.9" height="36"/><text x="3154.8" y="722.2">EI (16.0/2.0)</text></g>
<g id="a2b2a2b1" class="lf"><rect x="3153.15" y="612.3" width="80.9" height="36"/><text x="3193.6" y="635.3">EI (5.0/2.0)</text></g>
<g id="a2b2a2b2" class="lf"><rect x="3251.85" y="612.3" width="87.9" height="36"/><text x="3295.8" y="635.3">EI (49.0/0.0)</text></g>
<g id="b0" class="nd"><ellipse cx="1683.8" cy="22" rx="31" ry="18"/><text x="1683.8" y="27">N183</text></g>
<g id="b1" class="lf"><rect x="1643.15" y="90.9" width="80.9" height="36"/><text x="1683.6" y="113.9">IE (5.0/2.0)</text></g>
<g id="c0" class="nd"><ellipse cx="2770.5" cy="22" rx="31" ry="18"/><text x="2770.5" y="27">N190</text></g>
<g id="c1" class="nd"><ellipse cx="2770.5" cy="108.9" rx="36" ry="18"/><text x="2770.5" y="113.9">POS43</text></g>
<g id="c1a" class="lf"><rect x="2679.05" y="177.8" width="80.9" height="36"/><text x="2719.5" y="200.8">IE (2.0/1.0)</text></g>
<g id="c1b" class="lf"><rect x="2777.95" y="177.8" width="87.9" height="36"/><text x="2821.9" y="200.8">EI (19.0/1.0)</text></g>
<g id="d0" class="nd"><ellipse cx="3382.6" cy="22" rx="31" ry="18"/><text x="3382.6" y="27">N189</text></g>
<g id="d1" class="nd"><ellipse cx="3382.6" cy="108.9" rx="36" ry="18"/><text x="3382.6" y="113.9">POS34</text></g>
<g id="d1a" class="nd"><ellipse cx="3274.4" cy="195.8" rx="36" ry="18"/><text x="3274.4" y="200.8">POS38</text></g>
<g id="d1b" class="nd"><ellipse cx="3553.6" cy="195.8" rx="36" ry="18"/><text x="3553.6" y="200.8">POS39</text></g>
<g id="d1a1" class="lf"><rect x="3139.25" y="264.7" width="80.9" height="36"/><text x="3179.7" y="287.7">IE (4.0/2.0)</text></g>
<g id="d1a2" class="nd"><ellipse cx="3274.4" cy="282.7" rx="36" ry="18"/><text x="3274.4" y="287.7">POS23</text></g>
<g id="d1a2a" class="lf"><rect x="3139.25" y="351.6" width="80.9" height="36"/><text x="3179.7" y="374.6">EI (2.0/2.0)</text></g>
<g id="d1a2b" class="nd"><ellipse cx="3274.4" cy="369.6" rx="36" ry="18"/><text x="3274.4" y="374.6">POS39</text></g>
<g id="d1a2b1" class="lf"><rect x="3131.55" y="438.5" width="80.9" height="36"/><text x="3172" y="461.5">EI (2.0/1.0)</text></g>
<g id="d1a2b2" class="lf"><rect x="3230.25" y="438.5" width="87.9" height="36"/><text x="3274.2" y="461.5">EI (21.0/0.0)</text></g>
<g id="d1b1" class="nd"><ellipse cx="3553.6" cy="282.7" rx="36" ry="18"/><text x="3553.6" y="287.7">POS19</text></g>
<g id="d1b2" class="nd"><ellipse cx="3807" cy="282.7" rx="36" ry="18"/><text x="3807" y="287.7">POS49</text></g>
<g id="d1b1a" class="nd"><ellipse cx="3493" cy="369.6" rx="36" ry="18"/><text x="3493" y="374.6">POS47</text></g>
<g id="d1b1b" class="nd"><ellipse cx="3614.7" cy="369.6" rx="36" ry="18"/><text x="3614.7" y="374.6">POS46</text></g>
<g id="d1b1a1" class="lf"><rect x="3335.05" y="438.5" width="80.9" height="36"/><text x="3375.5" y="461.5">EI (7.0/0.0)</text></g>
<g id="d1b1a2" class="lf"><rect x="3452.15" y="438.5" width="80.9" height="36"/><text x="3492.6" y="461.5">IE (5.0/1.0)</text></g>
<g id="d1b1b1" class="lf"><rect x="3562.35" y="438.5" width="80.9" height="36"/><text x="3602.8" y="461.5">EI (4.0/2.0)</text></g>
<g id="d1b1b2" class="lf"><rect x="3660.85" y="438.5" width="87.9" height="36"/><text x="3704.8" y="461.5">EI (53.0/0.0)</text></g>
<g id="d1b2a" class="nd"><ellipse cx="3807" cy="369.6" rx="36" ry="18"/><text x="3807" y="374.6">POS57</text></g>
<g id="d1b2b" class="lf"><rect x="3860.65" y="351.6" width="94.9" height="36"/><text x="3908.1" y="374.6">EI (310.0/0.0)</text></g>
<g id="d1b2a1" class="lf"><rect x="3766.25" y="438.5" width="80.9" height="36"/><text x="3806.7" y="461.5">EI (5.0/2.0)</text></g>
<g id="d1b2a2" class="lf"><rect x="3864.95" y="438.5" width="87.9" height="36"/><text x="3908.9" y="461.5">EI (36.0/0.0)</text></g>
</g>
</svg>
